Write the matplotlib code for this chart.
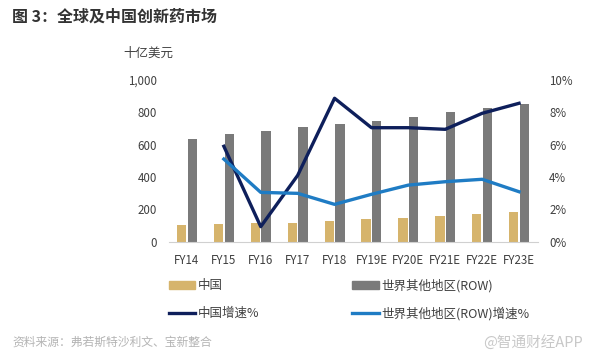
import matplotlib
matplotlib.use("Agg")
import matplotlib.pyplot as plt
from matplotlib.patches import Patch
from matplotlib.lines import Line2D
import numpy as np

plt.rcParams['font.family'] = ['Noto Sans CJK SC', 'DejaVu Sans']

categories = ["FY14", "FY15", "FY16", "FY17", "FY18", "FY19E", "FY20E", "FY21E", "FY22E", "FY23E"]
china = [106, 110, 116, 116, 130, 140, 148, 161, 173, 184]
row = [635, 666, 686, 709, 728, 746, 769, 800, 829, 854]
china_growth = [np.nan, 5.9, 0.93, 4.1, 8.87, 7.05, 7.05, 6.95, 7.94, 8.56]
row_growth = [np.nan, 5.11, 3.05, 2.99, 2.31, 2.93, 3.5, 3.71, 3.86, 3.09]
left_ticks = [0, 200, 400, 600, 800, 1000]
right_ticks = [0, 2, 4, 6, 8, 10]

c_china = "#D6B46C"
c_row = "#7A7A7A"
c_cg = "#0E1F5B"
c_rg = "#1F7CC4"
txt = "#404040"

fig = plt.figure(figsize=(5.91, 3.61), dpi=100)
ax = fig.add_axes([168.5/591, 1-241.7/361, 369/591, 161.7/361])
x = np.arange(len(categories))
w = 0.25
ax.bar(x - 0.145, china, w, color=c_china, zorder=2)
ax.bar(x + 0.145, row, w, color=c_row, zorder=2)
ax.set_xlim(-0.5, len(categories) - 0.5)
ax.set_ylim(0, 1000)
ax.set_yticks(left_ticks)
ax.set_yticklabels([f"{v:,}" for v in left_ticks])
ax.set_xticks(x)
ax.set_xticklabels(categories)
for s in ["top", "right", "left"]:
    ax.spines[s].set_visible(False)
ax.spines["bottom"].set_color("#D0D0D0")
ax.tick_params(axis="both", length=0, labelsize=8.3, colors=txt)
ax.tick_params(axis="y", pad=8.5)
ax.tick_params(axis="x", pad=8.5)

ax2 = ax.twinx()
ax2.plot(x, china_growth, color=c_cg, lw=2.4, zorder=3)
ax2.plot(x, row_growth, color=c_rg, lw=2.4, zorder=3)
ax2.set_ylim(0, 10)
ax2.set_yticks(right_ticks)
ax2.set_yticklabels([f"{v}%" for v in right_ticks])
for s in ["top", "right", "left", "bottom"]:
    ax2.spines[s].set_visible(False)
ax2.tick_params(axis="y", length=0, labelsize=8.3, colors=txt, pad=8.5)

fig.text(12/591, 1-17/361, "图 3：全球及中国创新药市场", fontsize=11.5, fontweight="bold",
         color="#333333", va="center", ha="left")
fig.text(148/591, 1-53/361, "十亿美元", fontsize=9, color=txt, va="center", ha="center")

handles = [Patch(color=c_china), Line2D([], [], color=c_cg, lw=2.4),
           Patch(color=c_row), Line2D([], [], color=c_rg, lw=2.4)]
labels = ["中国", "中国增速%", "世界其他地区(ROW)", "世界其他地区(ROW)增速%"]
leg = fig.legend(handles, labels, loc="upper left", bbox_to_anchor=(164/591, 1-274/361),
                 ncol=2, frameon=False, fontsize=9, handlelength=2.1, handleheight=0.55,
                 handletextpad=0.2, columnspacing=7.45, labelspacing=1.15, borderaxespad=0)
for t in leg.get_texts():
    t.set_color(txt)

fig.text(12/591, 1-342/361, "资料来源：弗若斯特沙利文、宝新整合", fontsize=8.5, color="#B4B4B4",
         va="center", ha="left")
fig.text(583/591, 1-342/361, "@智通财经APP", fontsize=10.5, color="#C8C8C8",
         va="center", ha="right")

fig.savefig("out.png", dpi=100)
